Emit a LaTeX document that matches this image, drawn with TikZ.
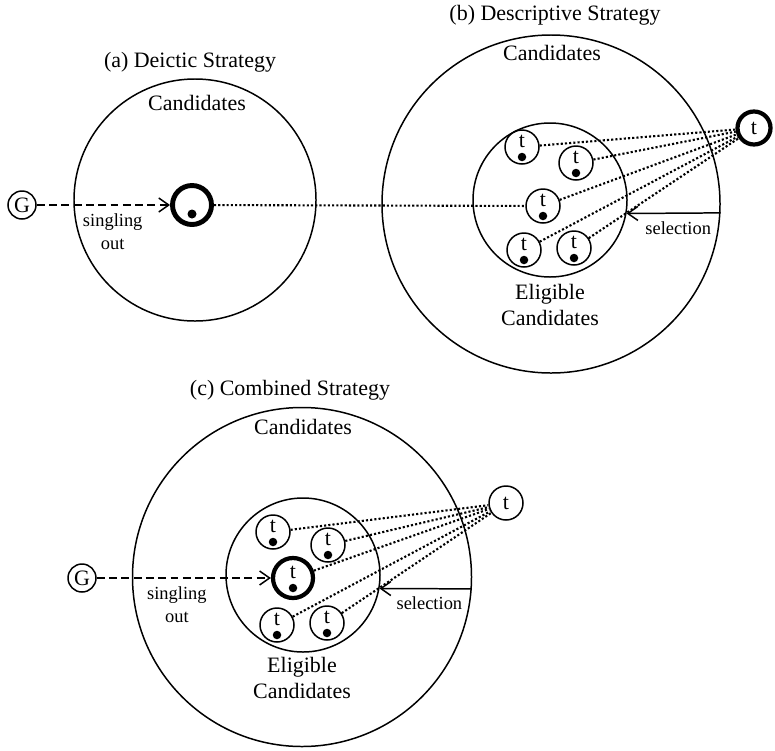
\documentclass[tikz,border=0pt]{standalone}
\usepackage{fontspec}
\setmainfont{Liberation Serif}
\usetikzlibrary{arrows.meta}

\tikzset{
  every node/.style={font=\fontsize{12.5}{15}\selectfont},
  ring/.style={circle, draw, inner sep=0pt},
  cand/.style={ring, minimum size=0.68cm},
  focus/.style={ring, minimum size=0.8cm, line width=2.4pt},
  lbl/.style={inner sep=0pt},
  small/.style={font=\fontsize{10.5}{13}\selectfont},
  single/.style={dash pattern=on 4.5pt off 2.5pt, -{Straight Barb[length=2mm,width=2.8mm]}},
  sel/.style={-{Straight Barb[length=2mm,width=2.8mm]}},
  link/.style={dash pattern=on 1.2pt off 1.2pt, line width=1.2pt}
}

% a candidate: circle with t on top and a dot below
\newcommand{\tcand}[3][]{%
  \node[cand,#1] (#2) at (#3) {};
  \node[lbl] (#2t) at ([yshift=0.11cm]#2.center) {t};
  \fill ([yshift=-0.2cm]#2.center) circle (0.085cm);
}

\begin{document}
\begin{tikzpicture}[x=0.2mm, y=-0.2mm, line width=0.85pt]
  \useasboundingbox (0,0) rectangle (775,750);

  % (a) deictic
  \node[lbl] (atitle) at (190,62) {(a) Deictic Strategy};
  \node[ring, minimum size=4.84cm] (abig) at (195,200) {};
  \node[lbl] (acand) at (197,103) {Candidates};
  \node[focus, minimum size=0.78cm, line width=2.8pt] (afoc) at (192,205) {};
  \fill ([yshift=-0.18cm]afoc.center) circle (0.09cm);
  \node[ring, minimum size=0.56cm] (ag) at (22,205) {G};
  \draw[single] (ag) -- (afoc) node[pos=0.57, below=1pt, small, align=center] (asing) {singling\\out};

  % (b) descriptive
  \node[lbl] (btitle) at (555,15) {(b) Descriptive Strategy};
  \node[ring, minimum size=6.76cm] (bbig) at (551,204) {};
  \node[lbl] (bcand) at (552,53) {Candidates};
  \node[ring, minimum size=3.08cm] (belig) at (550,200) {};
  \node[lbl, align=center] (belab) at (550,305) {Eligible\\Candidates};
  \tcand{b1}{522,147}
  \tcand{b2}{576,163}
  \tcand{b3}{543,206}
  \tcand{b4}{524,250}
  \tcand{b5}{574,248}
  \node[focus, minimum size=0.66cm] (bt) at (754,128) {t};
  \foreach \i in {1,...,5}
    \draw[link] (b\i) -- (bt);
  \draw[link] (afoc) -- (b3);
  \draw[sel] (bbig.-3) -- (belig.-10) node[pos=0.45, below=1pt, small] (bsel) {selection};

  % (c) combined
  \node[lbl] (ctitle) at (290,390) {(c) Combined Strategy};
  \node[ring, minimum size=6.78cm] (cbig) at (302,577) {};
  \node[lbl] (ccand) at (303,427) {Candidates};
  \node[ring, minimum size=3.08cm] (celig) at (303,575) {};
  \node[lbl, align=center] (celab) at (302,678) {Eligible\\Candidates};
  \tcand{c1}{273,532}
  \tcand{c2}{328,545}
  \tcand[focus]{c3}{293,578}
  \tcand{c4}{277,625}
  \tcand{c5}{327,623}
  \node[cand] (ct) at (506,503) {t};
  \node[ring, minimum size=0.56cm] (cg) at (82,578) {G};
  \foreach \i in {1,...,5}
    \draw[link] (c\i) -- (ct);
  \draw[single] (cg) -- (c3) node[pos=0.46, below=1pt, small, align=center] (csing) {singling\\out};
  \draw[sel] (cbig.-4) -- (celig.-10) node[pos=0.46, below=1pt, small] (csel) {selection};
\end{tikzpicture}
\end{document}
